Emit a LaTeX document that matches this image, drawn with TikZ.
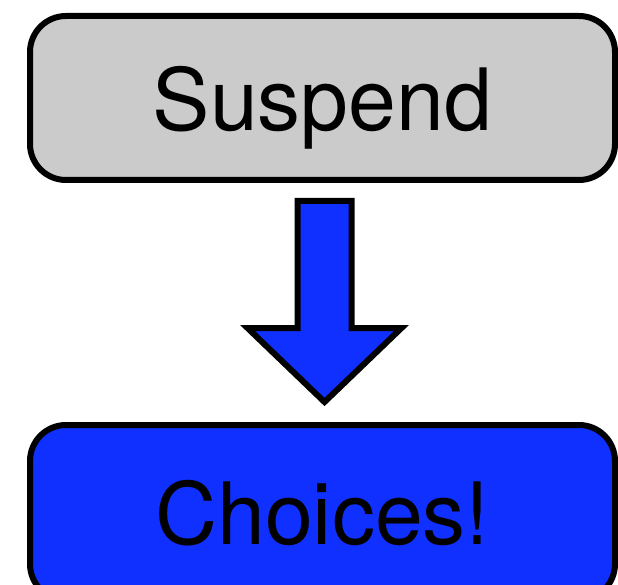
\documentclass[tikz,border=0pt]{standalone}
\usepackage{fontspec}
\setmainfont{TeX Gyre Heros}
\usetikzlibrary{calc}
\definecolor{boxgray}{RGB}{203,203,203}
\definecolor{choiceblue}{RGB}{16,48,255}

\begin{document}
\begin{tikzpicture}[
  x=1pt, y=1pt, line width=6pt, line join=round,
  stepbox/.style={draw=black, rounded corners=36pt, minimum width=585pt,
    inner sep=0pt, text depth=0pt, font=\fontsize{86}{86}\selectfont},
]
  \useasboundingbox (0,0) rectangle (618,-585);

  % top and bottom boxes
  \node[stepbox, fill=boxgray, minimum height=164pt] (suspend) at (322.5,-98) {Suspend};
  \node[stepbox, fill=choiceblue, minimum height=175pt] (choices) at (322.5,-512.5) {Choices!};

  % block arrow between them
  \coordinate (S) at ($(suspend.south)+(2,-18)$);
  \coordinate (T) at ($(choices.north)+(2,20)$);
  \draw[fill=choiceblue, line join=miter]
    ($(S)+(-27,0)$) -- ($(S)+(27,0)$) -- ($(T)+(27,74)$) -- ($(T)+(77,74)$)
    -- (T) -- ($(T)+(-77,74)$) -- ($(T)+(-27,74)$) -- cycle;
\end{tikzpicture}
\end{document}
